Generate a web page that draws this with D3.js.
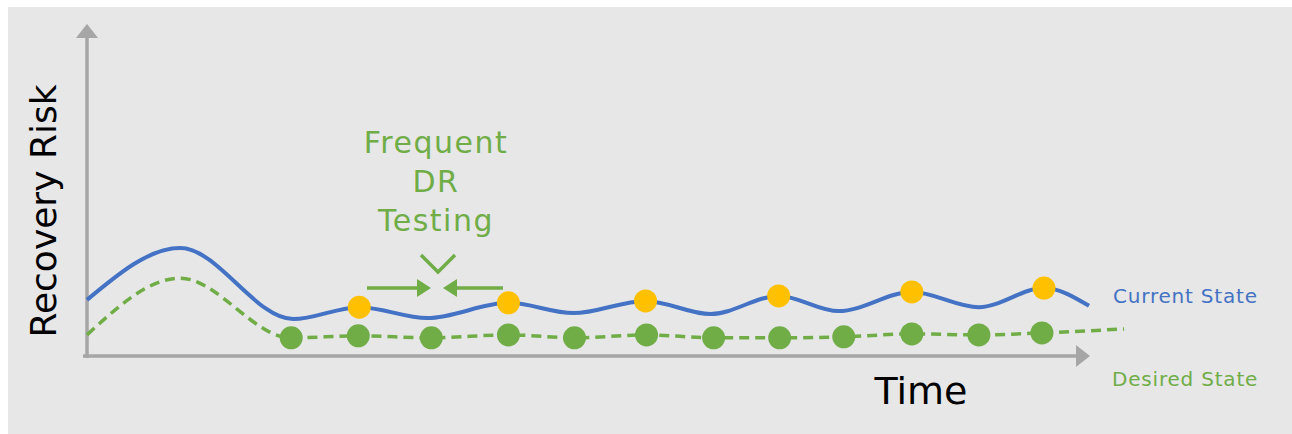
<!DOCTYPE html>
<html>
<head>
<meta charset="utf-8">
<script src="https://cdn.jsdelivr.net/npm/d3@7"></script>
<style>
  html, body { margin: 0; padding: 0; background: #ffffff; }
  svg { display: block; }
  text { font-family: "DejaVu Sans", "Noto Sans", sans-serif; }
</style>
</head>
<body>
<div id="chart"></div>
<script>
// time units along the x axis, risk units along the y axis
var currentX = [0, 9.3, 20.6, 27.2, 34.0, 42.1, 48.6, 55.8, 62.3, 69.1, 75.1, 82.4, 89.1, 95.6, 100.1];
var currentY = [1.70, 3.27, 1.12, 1.48, 1.15, 1.61, 1.30, 1.67, 1.27, 1.82, 1.36, 1.94, 1.48, 2.06, 1.52];

var desiredX = [0, 9.3, 20.4, 27.1, 34.4, 42.1, 48.7, 55.9, 62.6, 69.2, 75.6, 82.4, 89.1, 95.4, 103.6];
var desiredY = [0.64, 2.36, 0.55, 0.61, 0.55, 0.64, 0.55, 0.64, 0.55, 0.55, 0.58, 0.67, 0.64, 0.70, 0.82];

// points where DR tests happen on each curve
var currentTestX = [27.2, 42.1, 55.8, 69.1, 82.4, 95.6];
var currentTestY = [1.48, 1.61, 1.67, 1.82, 1.94, 2.06];
var desiredTestX = [20.4, 27.1, 34.4, 42.1, 48.7, 55.9, 62.6, 69.2, 75.6, 82.4, 89.1, 95.4];
var desiredTestY = [0.55, 0.61, 0.55, 0.64, 0.55, 0.64, 0.55, 0.55, 0.58, 0.67, 0.64, 0.70];

var seriesLabels = ["Current State", "Desired State"];
var annotationLines = ["Frequent", "DR", "Testing"];

var width = 1292, height = 434;
var margin = { top: 26, right: 204, bottom: 78, left: 87 };
var innerWidth = width - margin.left - margin.right,
    innerHeight = height - margin.top - margin.bottom;

var blue = "#4472c4", green = "#70ad47", yellow = "#ffc000", axisGray = "#a6a6a6";

var xScale = d3.scaleLinear().domain([0, 100]).range([0, innerWidth]);
var yScale = d3.scaleLinear().domain([0, 10]).range([innerHeight, 0]);

var svg = d3.select("#chart").append("svg")
    .attr("width", width)
    .attr("height", height);

svg.append("rect")
    .attr("x", 8).attr("y", 7)
    .attr("width", width - 8).attr("height", height - 7)
    .attr("fill", "#e7e7e7");

var defs = svg.append("defs");
defs.append("marker")
    .attr("id", "axisArrow")
    .attr("viewBox", "0 0 14 22")
    .attr("refX", 2).attr("refY", 11)
    .attr("markerWidth", 14).attr("markerHeight", 22)
    .attr("markerUnits", "userSpaceOnUse")
    .attr("orient", "auto")
    .append("path").attr("d", "M0,0L14,11L0,22Z").attr("fill", axisGray);
defs.append("marker")
    .attr("id", "greenArrow")
    .attr("viewBox", "0 0 14 18")
    .attr("refX", 1).attr("refY", 9)
    .attr("markerWidth", 14).attr("markerHeight", 18)
    .attr("markerUnits", "userSpaceOnUse")
    .attr("orient", "auto")
    .append("path").attr("d", "M0,0L14,9L0,18Z").attr("fill", green);

var g = svg.append("g")
    .attr("transform", "translate(" + margin.left + "," + margin.top + ")");

// axes (no ticks, just arrows)
g.append("line")
    .attr("x1", -4).attr("x2", xScale(99.0))
    .attr("y1", yScale(0)).attr("y2", yScale(0))
    .attr("stroke", axisGray).attr("stroke-width", 3.5)
    .attr("marker-end", "url(#axisArrow)");
g.append("line")
    .attr("x1", 0).attr("x2", 0)
    .attr("y1", yScale(0) + 2).attr("y2", yScale(9.7))
    .attr("stroke", axisGray).attr("stroke-width", 3.5)
    .attr("marker-end", "url(#axisArrow)");

var line = d3.line()
    .x(function (d) { return xScale(d[0]); })
    .y(function (d) { return yScale(d[1]); })
    .curve(d3.curveMonotoneX);

g.append("path")
    .datum(d3.zip(desiredX, desiredY))
    .attr("d", line)
    .attr("fill", "none")
    .attr("stroke", green)
    .attr("stroke-width", 3.5)
    .attr("stroke-dasharray", "10,6");

g.append("path")
    .datum(d3.zip(currentX, currentY))
    .attr("d", line)
    .attr("fill", "none")
    .attr("stroke", blue)
    .attr("stroke-width", 4);

g.selectAll(".desiredDot")
    .data(d3.zip(desiredTestX, desiredTestY))
    .enter().append("circle")
    .attr("class", "desiredDot")
    .attr("cx", function (d) { return xScale(d[0]); })
    .attr("cy", function (d) { return yScale(d[1]); })
    .attr("r", 11.5)
    .attr("fill", green);

g.selectAll(".currentDot")
    .data(d3.zip(currentTestX, currentTestY))
    .enter().append("circle")
    .attr("class", "currentDot")
    .attr("cx", function (d) { return xScale(d[0]); })
    .attr("cy", function (d) { return yScale(d[1]); })
    .attr("r", 11.5)
    .attr("fill", yellow);

// axis titles
svg.append("text")
    .attr("transform", "translate(56,211) rotate(-90)")
    .attr("text-anchor", "middle")
    .attr("font-size", 36)
    .attr("fill", "#000")
    .text("Recovery Risk");

svg.append("text")
    .attr("x", 921).attr("y", 404)
    .attr("text-anchor", "middle")
    .attr("font-size", 38)
    .attr("fill", "#000")
    .text("Time");

// series labels
svg.append("text")
    .attr("x", 1113).attr("y", 303)
    .attr("font-size", 20)
    .attr("letter-spacing", 0.8)
    .attr("fill", blue)
    .text(seriesLabels[0]);
svg.append("text")
    .attr("x", 1112).attr("y", 386)
    .attr("font-size", 20)
    .attr("letter-spacing", 0.8)
    .attr("fill", green)
    .text(seriesLabels[1]);

// annotation
var note = svg.append("g").attr("fill", green);
note.selectAll("text")
    .data(annotationLines)
    .enter().append("text")
    .attr("x", 436)
    .attr("y", function (d, i) { return 153 + i * 39; })
    .attr("text-anchor", "middle")
    .attr("font-size", 30)
    .attr("letter-spacing", 1.5)
    .text(function (d) { return d; });

note.append("path")
    .attr("d", "M421,255L438,272L455,255")
    .attr("fill", "none")
    .attr("stroke", green)
    .attr("stroke-width", 3.5);
note.append("line")
    .attr("x1", 367).attr("x2", 418).attr("y1", 288).attr("y2", 288)
    .attr("stroke", green).attr("stroke-width", 3.5)
    .attr("marker-end", "url(#greenArrow)");
note.append("line")
    .attr("x1", 503).attr("x2", 456).attr("y1", 288).attr("y2", 288)
    .attr("stroke", green).attr("stroke-width", 3.5)
    .attr("marker-end", "url(#greenArrow)");
</script>
</body>
</html>
